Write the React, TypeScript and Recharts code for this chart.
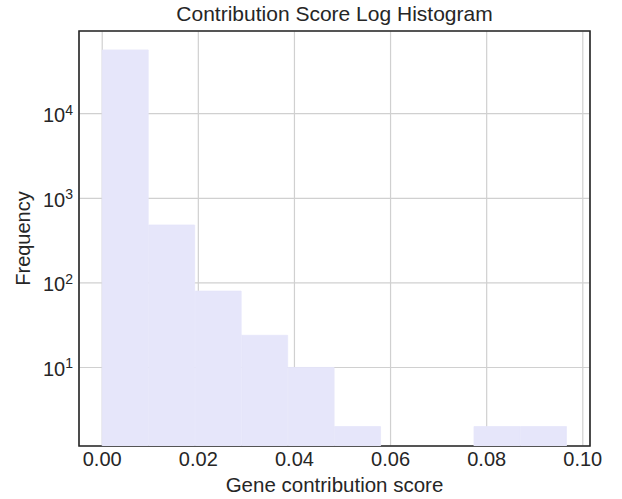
import React from 'react';
import { ComposedChart, Bar, XAxis, YAxis, CartesianGrid, ReferenceArea } from 'recharts';

// Histogram bins (10 equal-width bins)
const binEdges = [0, 0.00967, 0.01934, 0.02901, 0.03868, 0.04835, 0.05802, 0.06769, 0.07736, 0.08703, 0.0967];
const binCounts: (number | null)[] = [56700, 483, 80, 24, 10, 2, null, null, 2, 2];

const xTicks = [0, 0.02, 0.04, 0.06, 0.08, 0.1];
const yTicks = [10, 100, 1000, 10000];
const yExponents = ['1', '2', '3', '4'];

const xDomain: [number, number] = [-0.00483, 0.1015];
const yDomain: [number, number] = [1.18, 95000];

const data = binCounts.map((c, i) => ({
  bin: `${binEdges[i]}-${binEdges[i + 1]}`,
  start: binEdges[i],
  count: c,
}));

const W = 622;
const H = 499;
const M = { top: 31, right: 32, left: 0, bottom: 0 };
const Y_AXIS_W = 79;
const X_AXIS_H = 53;
const plotW = W - M.left - M.right - Y_AXIS_W;
const pxPerUnit = plotW / (xDomain[1] - xDomain[0]);
const padLeft = (binEdges[0] - xDomain[0]) * pxPerUnit;
const padRight = (xDomain[1] - binEdges[binEdges.length - 1]) * pxPerUnit;

const TEXT = '#262626';
const FONT = '"Liberation Sans", Arial, sans-serif';
const BAR = '#e6e6fa';

const YTick = (props: any) => {
  const { x, y, payload } = props;
  const idx = yTicks.indexOf(payload.value);
  const exp = idx >= 0 ? yExponents[idx] : '';
  return (
    <text x={x} y={y + 8.5} textAnchor="end" fill={TEXT} fontSize={20} fontFamily={FONT}>
      <tspan>10</tspan>
      <tspan dy={-7.5} fontSize={14}>{exp}</tspan>
    </text>
  );
};

export default function App() {
  const plotCx = M.left + Y_AXIS_W + plotW / 2;
  const plotCy = M.top + (H - M.top - X_AXIS_H) / 2;
  return (
    <div style={{ position: 'absolute', left: 0, top: 0, width: W, height: H, background: '#fff' }}>
      <ComposedChart
        width={W}
        height={H}
        data={data}
        margin={M}
        barCategoryGap={0}
        barGap={0}
        style={{ fontFamily: FONT }}
      >
        <CartesianGrid xAxisId="num" yAxisId="y" stroke="#d0d0d0" strokeWidth={1.2} />
        <XAxis
          xAxisId="bins"
          dataKey="bin"
          type="category"
          hide
          orientation="top"
          height={0}
          padding={{ left: padLeft, right: padRight }}
        />
        <XAxis
          xAxisId="num"
          dataKey="start"
          type="number"
          domain={xDomain}
          ticks={xTicks}
          allowDataOverflow
          height={X_AXIS_H}
          tickLine={false}
          tickSize={0}
          tickMargin={6}
          axisLine={false}
          tick={{ fill: TEXT, fontSize: 20, fontFamily: FONT }}
          tickFormatter={(v: number) => v.toFixed(2)}
        />
        <YAxis
          yAxisId="y"
          type="number"
          scale="log"
          domain={yDomain}
          ticks={yTicks}
          allowDataOverflow
          width={Y_AXIS_W}
          tickLine={false}
          tickSize={0}
          tickMargin={6}
          axisLine={false}
          tick={<YTick />}
        />
        <Bar
          xAxisId="bins"
          yAxisId="y"
          dataKey="count"
          fill={BAR}
          stroke={BAR}
          strokeWidth={0.8}
          isAnimationActive={false}
        />
        <ReferenceArea
          xAxisId="num"
          yAxisId="y"
          x1={xDomain[0]}
          x2={xDomain[1]}
          y1={yDomain[0]}
          y2={yDomain[1]}
          fill="none"
          fillOpacity={0}
          stroke={TEXT}
          strokeWidth={1.6}
          ifOverflow="visible"
        />
        <text x={plotCx} y={21} textAnchor="middle" fill={TEXT} fontSize={21} fontFamily={FONT}>
          Contribution Score Log Histogram
        </text>
        <text x={plotCx} y={492} textAnchor="middle" fill={TEXT} fontSize={20.5} fontFamily={FONT}>
          Gene contribution score
        </text>
        <text
          x={30}
          y={plotCy}
          textAnchor="middle"
          fill={TEXT}
          fontSize={20}
          fontFamily={FONT}
          transform={`rotate(-90, 30, ${plotCy})`}
        >
          Frequency
        </text>
      </ComposedChart>
    </div>
  );
}
